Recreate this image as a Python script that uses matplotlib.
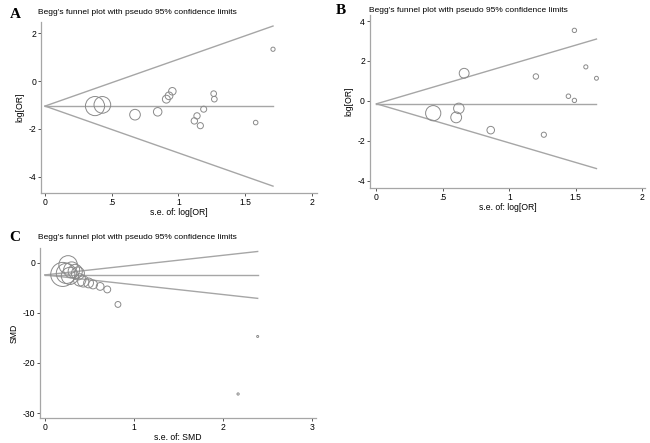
import numpy as np
import matplotlib
matplotlib.use("Agg")
import matplotlib.pyplot as plt

plt.rcParams['font.family'] = ['Liberation Sans', 'DejaVu Sans']

# Panel A: log[OR] vs s.e.
se_a = [0.375, 0.43, 0.675, 0.845, 0.91, 0.93, 0.955, 1.12, 1.14, 1.165, 1.19, 1.265, 1.27, 1.58, 1.71]
lor_a = [-1.05, -1.00, -1.41, -1.29, -0.76, -0.62, -0.43, -1.67, -1.46, -1.87, -1.18, -0.53, -0.76, -1.74, 1.33]
pooled_a = -1.05

# Panel B
se_b = [0.427, 0.60, 0.62, 0.66, 0.86, 1.20, 1.26, 1.445, 1.49, 1.49, 1.576, 1.656]
lor_b = [-0.62, -0.83, -0.38, 1.38, -1.47, 1.22, -1.70, 0.23, 0.02, 3.53, 1.70, 1.13]
pooled_b = -0.15

# Panel C: SMD vs s.e.
se_c = [0.26, 0.24, 0.20, 0.28, 0.30, 0.34, 0.37, 0.39, 0.43, 0.49, 0.54, 0.62, 0.70, 0.82, 2.17, 2.39]
smd_c = [-0.4, -2.1, -2.3, -2.6, -1.4, -1.7, -2.1, -3.4, -3.7, -4.0, -4.3, -4.7, -5.3, -8.3, -26.2, -14.7]
pooled_c = -2.4

GRAY = '#8a8a8a'
LINE = '#a6a6a6'
TITLE = "Begg's funnel plot with pseudo 95% confidence limits"


def funnel(ax, se, est, pooled, smax, xlim, ylim, xticks, xtlabels, yticks, xlabel, ylabel):
    se = np.array(se)
    est = np.array(est)
    top = se.max()
    ax.plot([0, top], [pooled, pooled], color=LINE, lw=1.0)
    ax.plot([0, top], [pooled, pooled + 1.96 * top], color=LINE, lw=1.0)
    ax.plot([0, top], [pooled, pooled - 1.96 * top], color=LINE, lw=1.0)
    sizes = smax * (se.min() / se) ** 2
    ax.scatter(se, est, s=sizes, facecolors='none', edgecolors=GRAY, linewidths=0.7, zorder=3)
    ax.set_xlim(*xlim)
    ax.set_ylim(*ylim)
    ax.set_xticks(xticks)
    ax.set_xticklabels(xtlabels)
    ax.set_yticks(yticks)
    ax.set_yticklabels([str(t) for t in yticks])
    ax.set_xlabel(xlabel, fontsize=6.2, labelpad=0.5)
    ax.set_ylabel(ylabel, fontsize=6.2, labelpad=3)
    for s in ['top', 'right']:
        ax.spines[s].set_visible(False)
    for s in ['left', 'bottom']:
        ax.spines[s].set_color(LINE)
        ax.spines[s].set_linewidth(0.9)
    ax.tick_params(colors='#555555', labelcolor='black', labelsize=6.2, length=2.5, width=0.7, pad=1)


fig = plt.figure(figsize=(6.5, 4.43), dpi=100)

ax_a = fig.add_axes([0.0631, 0.5643, 0.4246, 0.386])
funnel(ax_a, se_a, lor_a, pooled_a, 190, (-0.03, 2.04), (-4.69, 2.47),
       [0, 0.5, 1, 1.5, 2], ['0', '.5', '1', '1.5', '2'], [-4, -2, 0, 2],
       's.e. of: log[OR]', 'log[OR]')

ax_b = fig.add_axes([0.569, 0.5756, 0.423, 0.3905])
funnel(ax_b, se_b, lor_b, pooled_b, 120, (-0.05, 2.02), (-4.37, 4.3),
       [0, 0.5, 1, 1.5, 2], ['0', '.5', '1', '1.5', '2'], [-4, -2, 0, 2, 4],
       's.e. of: log[OR]', 'log[OR]')

ax_c = fig.add_axes([0.0615, 0.0564, 0.4246, 0.384])
funnel(ax_c, se_c, smd_c, pooled_c, 300, (-0.056, 3.045), (-31, 3),
       [0, 1, 2, 3], ['0', '1', '2', '3'], [-30, -20, -10, 0],
       's.e. of: SMD', 'SMD')

fig.text(38 / 650, 1 - 12 / 443, TITLE, fontsize=6, va='center')
fig.text(369 / 650, 1 - 10 / 443, TITLE, fontsize=6, va='center')
fig.text(38 / 650, 1 - 237 / 443, TITLE, fontsize=6, va='center')

for lbl, x, y in [('A', 10, 14), ('B', 336, 10), ('C', 9, 237)]:
    fig.text(x / 650, 1 - y / 443, lbl, fontsize=11, fontweight='bold',
             family=['Liberation Serif', 'DejaVu Serif'], va='center')

fig.savefig('out.png', dpi=100)
